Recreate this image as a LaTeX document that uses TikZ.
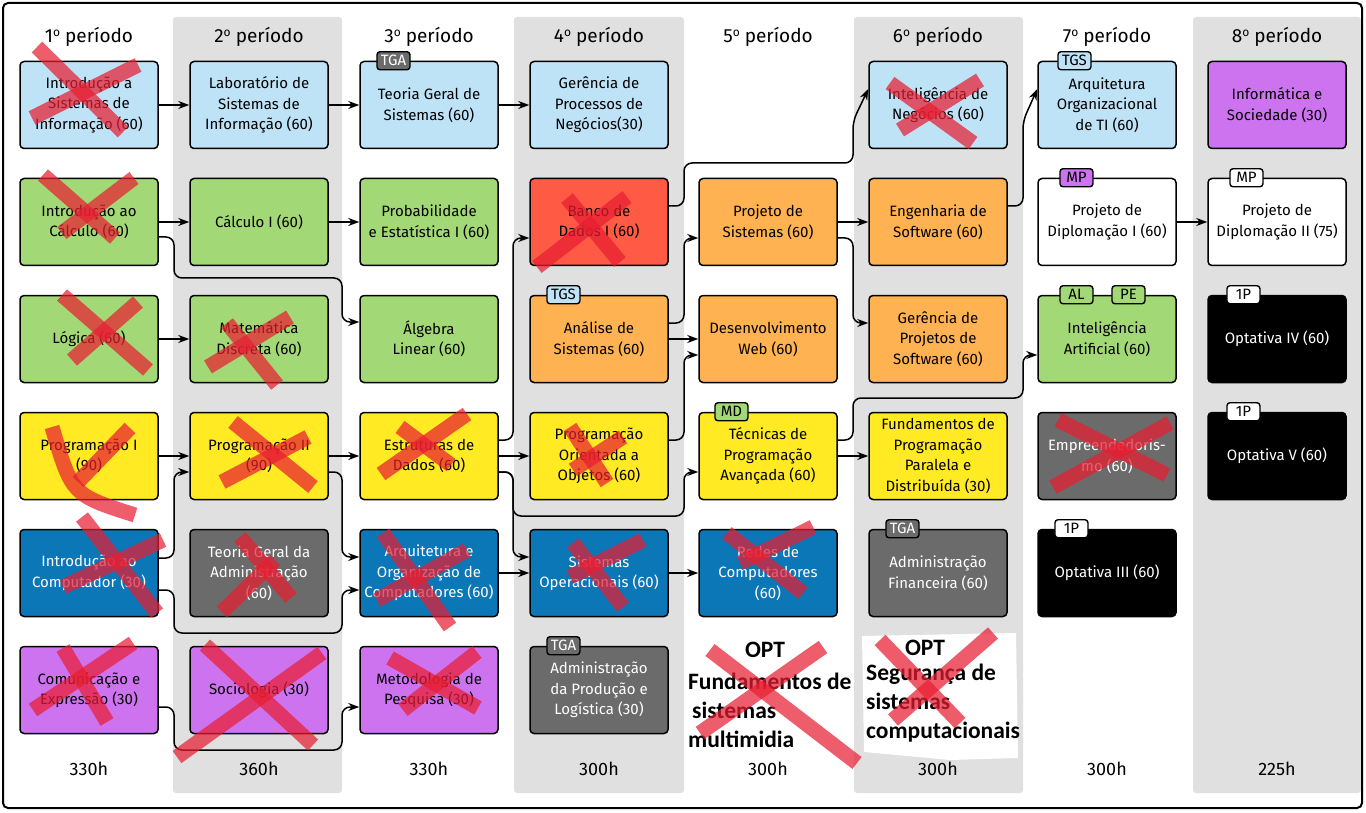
\documentclass[tikz,border=0pt]{standalone}
\usepackage{fontspec}
\setmainfont{Fira Sans}
\newfontfamily\optfont{Carlito}
\usetikzlibrary{arrows.meta}

\definecolor{cblue}{RGB}{190,226,246}
\definecolor{cgreen}{RGB}{162,216,117}
\definecolor{cred}{RGB}{255,90,68}
\definecolor{corange}{RGB}{255,178,82}
\definecolor{cyellow}{RGB}{255,234,36}
\definecolor{cdblue}{RGB}{11,119,183}
\definecolor{cgray}{RGB}{107,107,107}
\definecolor{cpurple}{RGB}{205,115,240}
\definecolor{colgray}{RGB}{224,224,224}
\definecolor{xred}{RGB}{232,30,50}

\newcommand{\ordo}{\raisebox{0.62ex}{\fontsize{12}{12}\selectfont o}}

\tikzset{
 course/.style={draw=black, line width=1.5pt, rounded corners=4pt, minimum width=138pt, minimum height=87pt, inner sep=2pt, align=center, font=\fontsize{15}{20.5}\selectfont},
 dark/.style={text=white},
 tag/.style={draw=black, line width=1.4pt, rounded corners=3pt, minimum width=33pt, minimum height=18pt, inner sep=1.5pt, font=\fontsize{15}{15}\selectfont, anchor=west},
 conn/.style={line width=1.5pt, rounded corners=8pt, -{Stealth[length=11pt,width=8pt]}},
 xmark/.style={draw=xred, opacity=0.72, line width=15pt},
 header/.style={font=\fontsize{19}{19}\selectfont},
 hours/.style={font=\fontsize{18}{18}\selectfont},
 opt/.style={font=\optfont\bfseries\fontsize{23.5}{29}\selectfont, align=left, inner sep=0pt},
}

\begin{document}
\begin{tikzpicture}[x=1pt,y=-1pt]
\useasboundingbox (0,0) rectangle (1366,813);

% period columns
\fill[colgray, rounded corners=3pt] (173,17) rectangle (342,793);
\fill[colgray, rounded corners=3pt] (514,17) rectangle (684,793);
\fill[colgray, rounded corners=3pt] (854,17) rectangle (1023,793);
\fill[colgray, rounded corners=3pt] (1193,17) rectangle (1361,793);

% headers and hours
\foreach \x/\n/\h in {89/1/330h,259/2/360h,429/3/330h,599/4/300h,768/5/300h,938/6/300h,1107/7/300h,1277/8/225h}{
  \node[header] (hd\n) at (\x,37) {\n\ordo\ período};
  \node[hours] (hr\n) at (\x,769) {\h};
}

% column 1
\node[course, fill=cblue] (isi) at (89,105) {Introdução a\\Sistemas de\\Informação (60)};
\node[course, fill=cgreen] (ic) at (89,222) {Introdução ao\\Cálculo (60)};
\node[course, fill=cgreen] (lg) at (89,339) {Lógica (60)};
\node[course, fill=cyellow] (pa) at (89,456) {Programação I\\(90)};
\node[course, fill=cdblue, dark] (icomp) at (89,573) {Introdução ao\\Computador (30)};
\node[course, fill=cpurple] (ce) at (89,690) {Comunicação e\\Expressão (30)};

% column 2
\node[course, fill=cblue] (lsi) at (259,105) {Laboratório de\\Sistemas de\\Informação (60)};
\node[course, fill=cgreen] (cI) at (259,222) {Cálculo I (60)};
\node[course, fill=cgreen] (mdi) at (259,339) {Matemática\\Discreta (60)};
\node[course, fill=cyellow] (pb) at (259,456) {Programação II\\(90)};
\node[course, fill=cgray, dark] (tgad) at (259,573) {Teoria Geral da\\Administração\\(60)};
\node[course, fill=cpurple] (soc) at (259,690) {Sociologia (30)};

% column 3
\node[course, fill=cblue] (tgs) at (429,105) {Teoria Geral de\\Sistemas (60)};
\node[course, fill=cgreen] (pes) at (429,222) {Probabilidade\\e Estatística I (60)};
\node[course, fill=cgreen] (alg) at (429,339) {Álgebra\\Linear (60)};
\node[course, fill=cyellow] (ed) at (429,456) {Estruturas de\\Dados (60)};
\node[course, fill=cdblue, dark] (aoc) at (429,573) {Arquitetura e\\Organização de\\Computadores (60)};
\node[course, fill=cpurple] (mpq) at (429,690) {Metodologia de\\Pesquisa (30)};

% column 4
\node[course, fill=cblue] (gpn) at (599,105) {Gerência de\\Processos de\\Negócios(30)};
\node[course, fill=cred] (bd) at (599,222) {Banco de\\Dados I (60)};
\node[course, fill=corange] (asis) at (599,339) {Análise de\\Sistemas (60)};
\node[course, fill=cyellow] (poo) at (599,456) {Programação\\Orientada a\\Objetos (60)};
\node[course, fill=cdblue, dark] (sop) at (599,573) {Sistemas\\Operacionais (60)};
\node[course, fill=cgray, dark] (apl) at (599,690) {Administração\\da Produção e\\Logística (30)};

% column 5
\node[course, fill=corange] (psis) at (768,222) {Projeto de\\Sistemas (60)};
\node[course, fill=corange] (dweb) at (768,339) {Desenvolvimento\\Web (60)};
\node[course, fill=cyellow] (tpa) at (768,456) {Técnicas de\\Programação\\Avançada (60)};
\node[course, fill=cdblue, dark] (rc) at (768,573) {Redes de\\Computadores\\(60)};

% column 6
\node[course, fill=cblue] (ineg) at (938,105) {Inteligência de\\Negócios (60)};
\node[course, fill=corange] (esw) at (938,222) {Engenharia de\\Software (60)};
\node[course, fill=corange] (gps) at (938,339) {Gerência de\\Projetos de\\Software (60)};
\node[course, fill=cyellow] (fpp) at (938,456) {Fundamentos de\\Programação\\Paralela e\\Distribuída (30)};
\node[course, fill=cgray, dark] (afin) at (938,573) {Administração\\Financeira (60)};

% column 7
\node[course, fill=cblue] (aoti) at (1107,105) {Arquitetura\\Organizacional\\de TI (60)};
\node[course, fill=white] (pdA) at (1107,222) {Projeto de\\Diplomação I (60)};
\node[course, fill=cgreen] (iart) at (1107,339) {Inteligência\\Artificial (60)};
\node[course, fill=cgray, dark] (emp) at (1107,456) {Empreendedoris-\\mo (60)};
\node[course, fill=black, dark] (opIII) at (1107,573) {Optativa III (60)};

% column 8
\node[course, fill=cpurple] (isoc) at (1277,105) {Informática e\\Sociedade (30)};
\node[course, fill=white] (pdB) at (1277,222) {Projeto de\\Diplomação II (75)};
\node[course, fill=black, dark] (opIV) at (1277,339) {Optativa IV (60)};
\node[course, fill=black, dark] (opV) at (1277,456) {Optativa V (60)};

% tags
\node[tag, fill=cgray, text=white] (tg1) at ([xshift=17pt]tgs.north west) {TGA};
\node[tag, fill=cblue] (tg2) at ([xshift=17pt]asis.north west) {TGS};
\node[tag, fill=cgray, text=white] (tg3) at ([xshift=17pt]apl.north west) {TGA};
\node[tag, fill=cgreen] (tg4) at ([xshift=16pt]tpa.north west) {MD};
\node[tag, fill=cgray, text=white] (tg5) at ([xshift=17pt]afin.north west) {TGA};
\node[tag, fill=cblue] (tg6) at ([xshift=20pt]aoti.north west) {TGS};
\node[tag, fill=cpurple] (tg7) at ([xshift=22pt]pdA.north west) {MP};
\node[tag, fill=cgreen] (tg8) at ([xshift=22pt]iart.north west) {AL};
\node[tag, fill=cgreen] (tg9) at ([xshift=74pt]iart.north west) {PE};
\node[tag, fill=white] (tg10) at ([xshift=17pt]opIII.north west) {1P};
\node[tag, fill=white] (tg11) at ([xshift=22pt]pdB.north west) {MP};
\node[tag, fill=white] (tg12) at ([xshift=19pt]opIV.north west) {1P};
\node[tag, fill=white] (tg13) at ([xshift=19pt]opV.north west) {1P};

% straight connectors
\draw[conn] (isi) -- (lsi);
\draw[conn] (lsi) -- (tgs);
\draw[conn] (tgs) -- (gpn);
\draw[conn] (ic) -- (cI);
\draw[conn] (cI) -- (pes);
\draw[conn] (lg) -- (mdi);
\draw[conn] (pa) -- (pb);
\draw[conn] (pb) -- (ed);
\draw[conn] (ed) -- (poo);
\draw[conn] (aoc) -- (sop);
\draw[conn] (sop) -- (rc);
\draw[conn] (asis) -- (dweb);
\draw[conn] (psis) -- (esw);
\draw[conn] (tpa) -- (fpp);
\draw[conn] (pdA) -- (pdB);

% routed connectors
\draw[conn] ([yshift=-15pt]ic.east) -- (174,237) -- (174,278) -- (342,278) -- (342,322) -- ([yshift=17pt]alg.west);
\draw[conn] ([yshift=15pt]icomp.east) -- (174,558) -- (174,472) -- ([yshift=-16pt]pb.west);
\draw[conn] ([yshift=-17pt]icomp.east) -- (174,590) -- (174,633) -- (342,633) -- (342,590) -- ([yshift=-17pt]aoc.west);
\draw[conn] ([yshift=-16pt]pb.east) -- (342,472) -- (342,557) -- ([yshift=16pt]aoc.west);
\draw[conn] ([yshift=-17pt]ce.east) -- (174,707) -- (174,750) -- (342,750) -- (342,707) -- ([yshift=-17pt]mpq.west);
\draw[conn] ([yshift=16pt]ed.east) -- (513,440) -- (513,238) -- ([yshift=-16pt]bd.west);
\draw[conn] ([yshift=-16pt]ed.east) -- (513,472) -- (513,557) -- ([yshift=16pt]sop.west);
\draw[conn] ([yshift=-16pt]ed.east) -- (513,472) -- (513,516) -- (684,516) -- (684,472) -- ([yshift=-16pt]tpa.west);
\draw[conn] ([yshift=16pt]asis.east) -- (684,323) -- (684,238) -- ([yshift=-16pt]psis.west);
\draw[conn] ([yshift=16pt]poo.east) -- (684,440) -- (684,355) -- ([yshift=-16pt]dweb.west);
\draw[conn] ([yshift=16pt]bd.east) -- (684,206) -- (684,163) -- (853,163) -- (853,121) -- ([yshift=16pt]ineg.west);
\draw[conn] ([yshift=-16pt]psis.east) -- (853,238) -- (853,323) -- ([yshift=16pt]gps.west);
\draw[conn] ([yshift=16pt]tpa.east) -- (853,440) -- (853,398) -- (1023,398) -- (1023,355) -- ([yshift=-16pt]iart.west);
\draw[conn] ([yshift=16pt]esw.east) -- (1023,206) -- (1023,121) -- ([yshift=16pt]aoti.west);

% OPT notes
\node[opt] (optA) at (765,650) {OPT};
\node[opt, anchor=west] (optAt) at (688,710) {Fundamentos de\\\hspace{4pt}sistemas\\multimidia};
\fill[white] (862,636) -- (1016,633) -- (1018,758) -- (950,760) -- (864,752) -- cycle;
\node[opt] (optB) at (925,648) {OPT};
\node[opt, anchor=west] (optBt) at (866,703) {Segurança de\\sistemas\\computacionais};

% frame
\draw[line width=2pt, rounded corners=5pt] (3,3) rectangle (1362,808);

% crosses
\draw[xmark] (37,47) -- (123,132); \draw[xmark] (138,65) -- (32,118);
\draw[xmark] (43,175) -- (115,238); \draw[xmark] (134,178) -- (62,233);
\draw[xmark] (62,295) -- (148,370); \draw[xmark] (138,302) -- (72,360);
\draw[xmark] (290,317) -- (208,367); \draw[xmark] (227,323) -- (277,385);
\draw[xmark] (52,427) .. controls (72,495) .. (135,515); \draw[xmark] (130,428) -- (78,482);
\draw[xmark] (233,422) -- (313,487); \draw[xmark] (308,437) -- (222,482);
\draw[xmark] (82,517) -- (157,613); \draw[xmark] (163,540) -- (63,587);
\draw[xmark] (240,537) -- (291,598); \draw[xmark] (275,560) -- (222,612);
\draw[xmark] (63,648) -- (107,722); \draw[xmark] (133,643) -- (33,710);
\draw[xmark] (205,645) -- (313,745); \draw[xmark] (322,653) -- (177,757);
\draw[xmark] (400,427) -- (451,465); \draw[xmark] (467,414) -- (381,474);
\draw[xmark] (383,533) -- (450,627); \draw[xmark] (467,550) -- (377,600);
\draw[xmark] (390,658) -- (478,708); \draw[xmark] (477,652) -- (403,710);
\draw[xmark] (567,198) -- (620,262); \draw[xmark] (627,197) -- (537,267);
\draw[xmark] (570,427) -- (607,483); \draw[xmark] (623,437) -- (573,470);
\draw[xmark] (573,543) -- (623,607); \draw[xmark] (643,540) -- (570,577);
\draw[xmark] (727,533) -- (803,593); \draw[xmark] (813,527) -- (740,563);
\draw[xmark] (890,83) -- (973,143); \draw[xmark] (980,80) -- (900,130);
\draw[xmark] (1058,420) -- (1167,475); \draw[xmark] (1170,423) -- (1053,487);
\draw[xmark] (710,650) -- (857,763); \draw[xmark] (823,647) -- (700,733);
\draw[xmark] (880,640) -- (960,723); \draw[xmark] (993,633) -- (893,720);
\end{tikzpicture}
\end{document}
